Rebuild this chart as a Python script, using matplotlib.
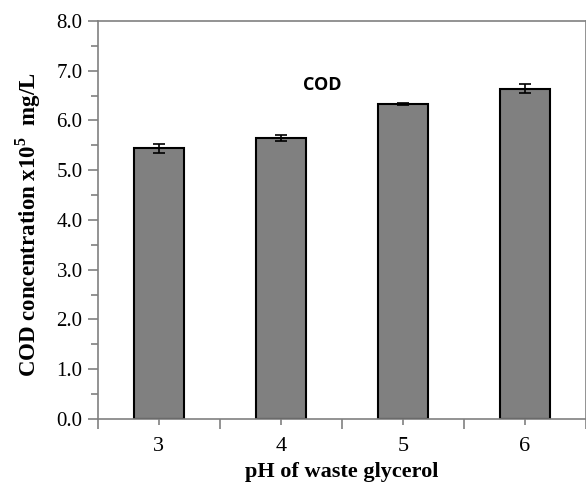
import matplotlib
matplotlib.use("Agg")
import matplotlib.pyplot as plt
from matplotlib.ticker import MultipleLocator, FixedLocator
import numpy as np

categories = ["3", "4", "5", "6"]
values = [5.44, 5.65, 6.32, 6.64]
errors = [0.09, 0.06, 0.02, 0.09]
yticks = [0.0, 1.0, 2.0, 3.0, 4.0, 5.0, 6.0, 7.0, 8.0]

plt.rcParams['font.family'] = ['Liberation Serif', 'DejaVu Serif']
plt.rcParams['mathtext.fontset'] = 'custom'
plt.rcParams['mathtext.rm'] = 'Liberation Serif:bold'
plt.rcParams['mathtext.bf'] = 'Liberation Serif:bold'

fig = plt.figure(figsize=(5.86, 4.86), dpi=100)
ax = fig.add_axes([0.167, 0.138, 0.833, 0.819])

x = np.arange(len(categories))
ax.bar(x, values, width=0.41, color='#808080', edgecolor='black', linewidth=1.5,
       yerr=errors, capsize=4, error_kw=dict(ecolor='black', elinewidth=1.2, capthick=1.2))

ax.set_xlim(-0.5, len(categories) - 0.5)
ax.set_ylim(0, 8)
ax.set_yticks(yticks)
ax.set_yticklabels([f"{v:.1f}" for v in yticks], fontsize=15)
ax.yaxis.set_minor_locator(MultipleLocator(0.5))
ax.xaxis.set_major_locator(FixedLocator(np.arange(-0.5, len(categories), 1.0)))
ax.set_xticklabels([])
ax.set_xticks(x, labels=categories, minor=True, fontsize=16)

for s in ax.spines.values():
    s.set_color('#808080')
    s.set_linewidth(1.2)

ax.tick_params(axis='y', which='major', direction='out', length=7, width=1.2, color='#808080', pad=4)
ax.tick_params(axis='y', which='minor', direction='out', length=5, width=1.2, color='#808080')
ax.tick_params(axis='x', which='major', direction='out', length=7, width=1.2, color='#808080')
ax.tick_params(axis='x', which='minor', direction='out', length=4, width=1.2, color='#808080', pad=9)

ax.set_ylabel(r"COD concentration x10$^{5}$  mg/L", fontsize=16.5, fontweight='bold', labelpad=10)
ax.yaxis.label.set_y(0.4875)
ax.set_xlabel("pH of waste glycerol", fontsize=16, fontweight='bold', labelpad=4)

ax.text(1.34, 6.72, "COD", fontsize=13, fontweight='bold', family=['Open Sans', 'DejaVu Sans'],
        ha='center', va='center')

fig.savefig("out.png", dpi=100)
